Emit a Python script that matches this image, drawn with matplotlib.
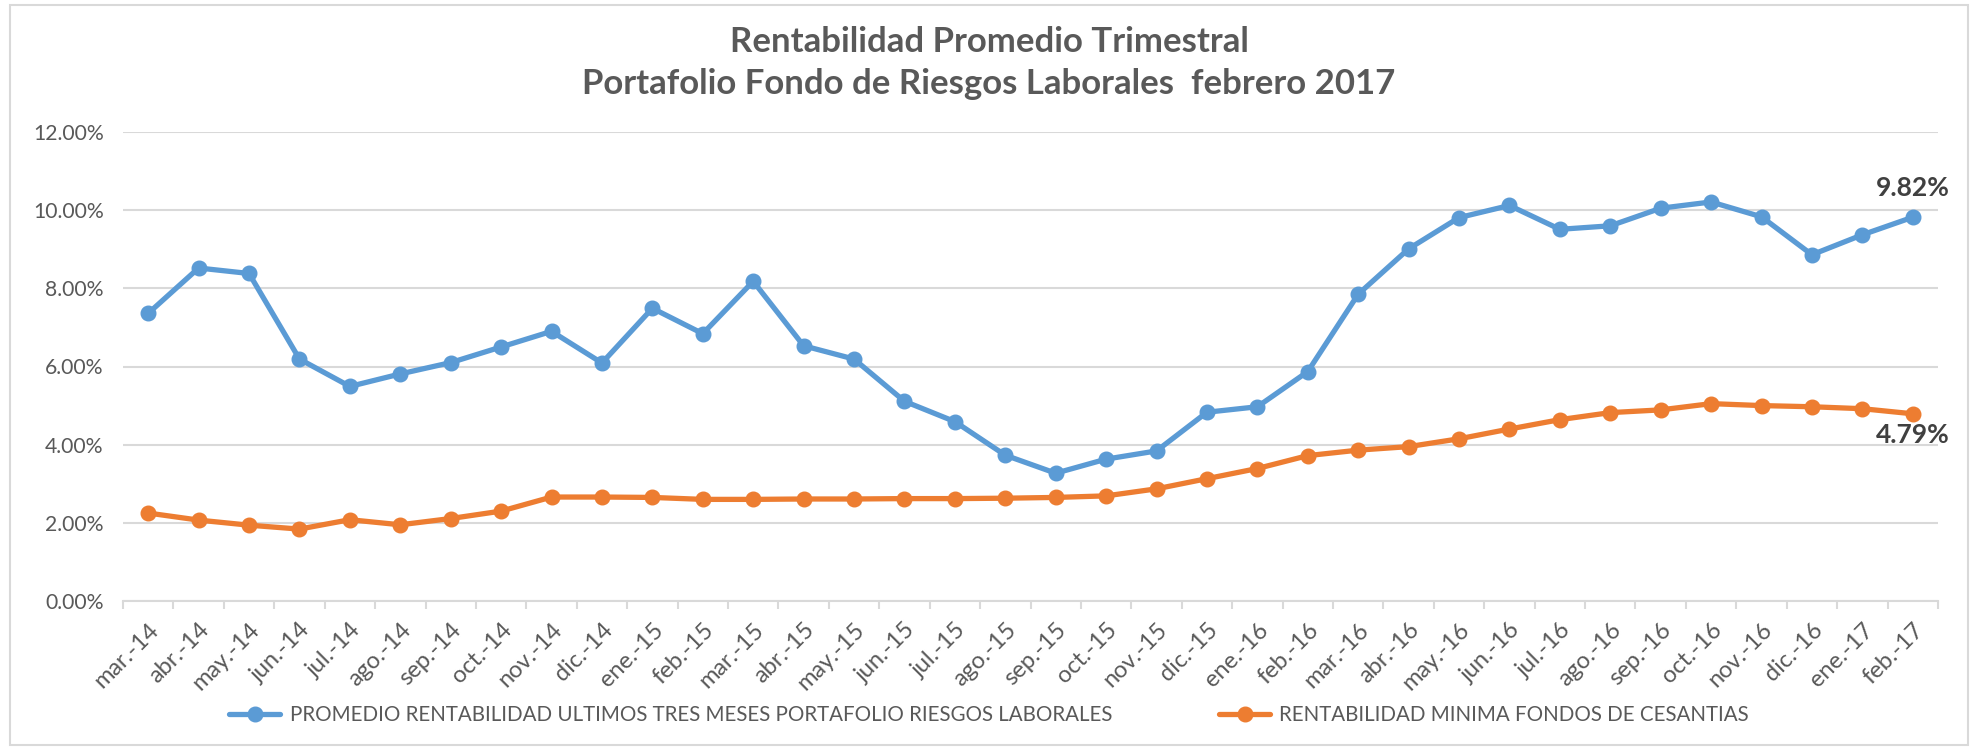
import matplotlib.pyplot as plt
from matplotlib.patches import Rectangle
from matplotlib.ticker import FuncFormatter, FixedLocator

plt.rcParams['font.family'] = ['Lato', 'DejaVu Sans']

months = ['mar.-14', 'abr.-14', 'may.-14', 'jun.-14', 'jul.-14', 'ago.-14', 'sep.-14', 'oct.-14',
          'nov.-14', 'dic.-14', 'ene.-15', 'feb.-15', 'mar.-15', 'abr.-15', 'may.-15', 'jun.-15',
          'jul.-15', 'ago.-15', 'sep.-15', 'oct.-15', 'nov.-15', 'dic.-15', 'ene.-16', 'feb.-16',
          'mar.-16', 'abr.-16', 'may.-16', 'jun.-16', 'jul.-16', 'ago.-16', 'sep.-16', 'oct.-16',
          'nov.-16', 'dic.-16', 'ene.-17', 'feb.-17']

# promedio rentabilidad ultimos tres meses (%)
portafolio = [7.36, 8.52, 8.38, 6.19, 5.49, 5.81, 6.10, 6.50, 6.90, 6.09, 7.49, 6.84,
              8.18, 6.53, 6.19, 5.11, 4.59, 3.73, 3.27, 3.63, 3.84, 4.83, 4.97, 5.87,
              7.85, 9.01, 9.81, 10.12, 9.51, 9.60, 10.05, 10.21, 9.83, 8.86, 9.37, 9.82]

# rentabilidad minima fondos de cesantias (%)
minima = [2.25, 2.07, 1.94, 1.84, 2.08, 1.95, 2.11, 2.30, 2.66, 2.66, 2.65, 2.60,
          2.60, 2.61, 2.61, 2.62, 2.62, 2.63, 2.65, 2.69, 2.87, 3.13, 3.39, 3.72,
          3.86, 3.95, 4.15, 4.40, 4.64, 4.82, 4.89, 5.05, 5.00, 4.97, 4.92, 4.79]

label_port = 'PROMEDIO RENTABILIDAD ULTIMOS TRES MESES PORTAFOLIO RIESGOS LABORALES'
label_min = 'RENTABILIDAD MINIMA FONDOS DE CESANTIAS'

blue = '#5B9BD5'
orange = '#ED7D31'
txt = '#595959'
grid = '#D9D9D9'

fig = plt.figure(figsize=(19.78, 7.48), dpi=100)
ax = fig.add_axes([123 / 1978, 1 - 601 / 748, (1938 - 123) / 1978, (601 - 132) / 748])

x = list(range(len(months)))
ax.plot(x, [v / 100 for v in portafolio], color=blue, lw=3.8, marker='o', ms=10.5,
        label=label_port, solid_capstyle='round')
ax.plot(x, [v / 100 for v in minima], color=orange, lw=3.8, marker='o', ms=10.5,
        label=label_min, solid_capstyle='round')

ax.set_xlim(-0.5, len(months) - 0.5)
ax.set_ylim(0, 0.12)
ax.set_yticks([0, 0.02, 0.04, 0.06, 0.08, 0.10, 0.12])
ax.yaxis.set_major_formatter(FuncFormatter(lambda v, p: f'{v * 100:.2f}%'))
ax.yaxis.grid(True, color=grid, lw=1.5)
ax.set_axisbelow(True)

ax.set_xticks(x)
ax.set_xticklabels(months, rotation=45, ha='right', rotation_mode='anchor')
ax.xaxis.set_minor_locator(FixedLocator([i - 0.5 for i in range(len(months) + 1)]))
ax.tick_params(axis='x', which='major', length=0, pad=13, labelsize=17, labelcolor=txt)
ax.tick_params(axis='x', which='minor', length=6, width=1.5, color=grid)
ax.tick_params(axis='y', length=0, pad=14, labelsize=15.2, labelcolor=txt)

for s in ['top', 'right', 'left']:
    ax.spines[s].set_visible(False)
ax.spines['bottom'].set_color(grid)
ax.spines['bottom'].set_linewidth(1.5)

ax.annotate(f'{portafolio[-1]:.2f}%', (x[-1], portafolio[-1] / 100), xytext=(0, 21),
            textcoords='offset points', ha='center', va='center',
            fontsize=19, fontweight='bold', color='#404040')
ax.annotate(f'{minima[-1]:.2f}%', (x[-1], minima[-1] / 100), xytext=(0, -15),
            textcoords='offset points', ha='center', va='center',
            fontsize=19, fontweight='bold', color='#404040')

fig.text(0.5, 1 - 42 / 748, 'Rentabilidad Promedio Trimestral', ha='center', va='center',
         fontsize=25, fontweight='bold', color=txt)
fig.text(0.5, 1 - 84 / 748, 'Portafolio Fondo de Riesgos Laborales  febrero 2017', ha='center',
         va='center', fontsize=25, fontweight='bold', color=txt)

fig.legend(loc='center', bbox_to_anchor=(0.5, 1 - 715 / 748), ncol=2, frameon=False,
           fontsize=14.8, labelcolor=txt, handlelength=2.5, handletextpad=0.45,
           columnspacing=5.2)

fig.patches.append(Rectangle((10 / 1978, 3 / 748), 1958 / 1978, 740 / 748,
                             transform=fig.transFigure, fill=False, edgecolor=grid, lw=1.5))

fig.savefig('out.png', dpi=100)
